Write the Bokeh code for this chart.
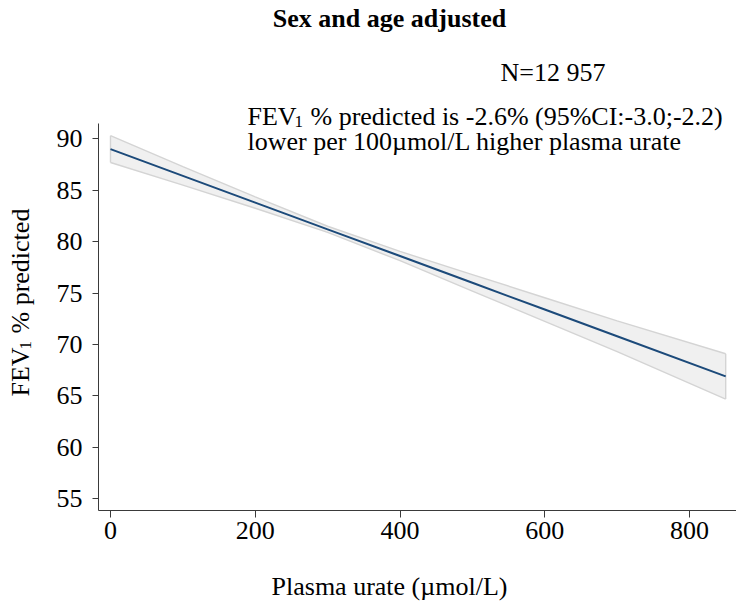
from bokeh.plotting import figure
from bokeh.models import Range1d, Label, FixedTicker
from bokeh.embed import file_html
from bokeh.resources import INLINE

# Fitted FEV1 % predicted against plasma urate, with its 95% confidence band
urate = [0, 100, 200, 300, 400, 500, 600, 700, 850]
fev1_fit = [89.0, 86.4, 83.8, 81.2, 78.6, 76.0, 73.4, 70.8, 66.9]
ci_upper = [90.3, 87.3, 84.35, 81.5, 79.05, 76.8, 74.55, 72.3, 69.1]
ci_lower = [87.7, 85.5, 83.25, 80.9, 78.15, 75.2, 72.25, 69.3, 64.7]

x_ticks = [0, 200, 400, 600, 800]
y_ticks = [55, 60, 65, 70, 75, 80, 85, 90]

title_text = "Sex and age adjusted"
n_text = "N=12 957"
effect_line1 = "% predicted is -2.6% (95%CI:-3.0;-2.2)"
effect_line2 = "lower per 100\u00b5mol/L higher plasma urate"
x_title = "Plasma urate (\u00b5mol/L)"
y_title_rest = "% predicted"

W, H = 736, 606
# canvas pixel geometry of the axes
AX_LEFT, AX_RIGHT, AX_TOP, AX_BOTTOM = 98, 736, 123, 509.5
X_PER_PX = 800 / (689 - 110)        # data units per pixel along x, 0 sits at px 110
Y_PER_PX = 35 / (498.3 - 138.3)     # data units per pixel along y, 90 sits at py 138.3
X0 = 0 - 110 * X_PER_PX
X1 = X0 + W * X_PER_PX
Y1 = 90 + 138.3 * Y_PER_PX
Y0 = Y1 - H * Y_PER_PX

FONT = "Liberation Serif"
FS = "26px"
SUB_FS = "17px"
AXIS_GREY = "#3a3a3a"
BASE_SHIFT = 9   # alphabetic-baseline text lands this far below its anchor


def dx(px):
    return X0 + px * X_PER_PX


def dy(py):
    return Y1 - py * Y_PER_PX


p = figure(width=W, height=H, output_backend="svg", toolbar_location=None,
           x_range=Range1d(X0, X1), y_range=Range1d(Y0, Y1),
           min_border=0, min_border_left=0, min_border_right=0,
           min_border_top=0, min_border_bottom=0)
p.title.visible = False
p.outline_line_color = None
p.grid.visible = False
p.background_fill_color = "white"
p.border_fill_color = "white"

# confidence band and fitted line
edge = dict(line_color="#d4d4d4", line_width=1.4)
p.varea(x=urate, y1=ci_lower, y2=ci_upper, fill_color="#f0f0f0")
p.line(urate, ci_upper, **edge)
p.line(urate, ci_lower, **edge)
p.line([urate[0], urate[0]], [ci_lower[0], ci_upper[0]], **edge)
p.line([urate[-1], urate[-1]], [ci_lower[-1], ci_upper[-1]], **edge)
p.line(urate, fev1_fit, line_color="#1c4a7a", line_width=2)

# axes pinned at the bottom-left corner of the plotting area
xa, ya = p.xaxis[0], p.yaxis[0]
xa.fixed_location = dy(AX_BOTTOM)
ya.fixed_location = dx(AX_LEFT)
xa.bounds = (dx(AX_LEFT), dx(AX_RIGHT))
ya.bounds = (dy(AX_BOTTOM), dy(AX_TOP))
for ax in (xa, ya):
    ax.axis_line_color = AXIS_GREY
    ax.major_tick_line_color = AXIS_GREY
    ax.minor_tick_line_color = None
    ax.major_tick_in = 0
    ax.major_label_text_font = FONT
    ax.major_label_text_font_size = FS
    ax.major_label_text_color = "black"
xa.ticker = FixedTicker(ticks=x_ticks)
ya.ticker = FixedTicker(ticks=y_ticks)
xa.major_tick_out = 7
xa.major_label_standoff = 5
ya.major_tick_out = 6
ya.major_label_standoff = 10


def put(text, px, py, size=FS, bold=False, align="left", rotated=False):
    # px, py: wanted baseline anchor in canvas pixels
    if rotated:
        x, y, angle = dx(px - BASE_SHIFT), dy(py), 1.5708
    else:
        x, y, angle = dx(px), dy(py - BASE_SHIFT), 0.0
    p.add_layout(Label(x=x, y=y, text=text, text_font=FONT,
                       text_font_size=size, text_color="black",
                       text_font_style="bold" if bold else "normal",
                       text_align=align, text_baseline="alphabetic",
                       angle=angle))


# title and annotations
put(title_text, 389, 27, bold=True, align="center")
put(n_text, 500, 81)
put("FEV", 247, 125)
put("1", 294, 130, size=SUB_FS)
put(effect_line1, 310, 125)
put(effect_line2, 247, 150)

# axis titles
put(x_title, 389, 595, align="center")
put("FEV", 29, 396, rotated=True)
put("1", 34, 349, size=SUB_FS, rotated=True)
put(y_title_rest, 29, 333, rotated=True)

open("out.html", "w").write(file_html(p, INLINE))
